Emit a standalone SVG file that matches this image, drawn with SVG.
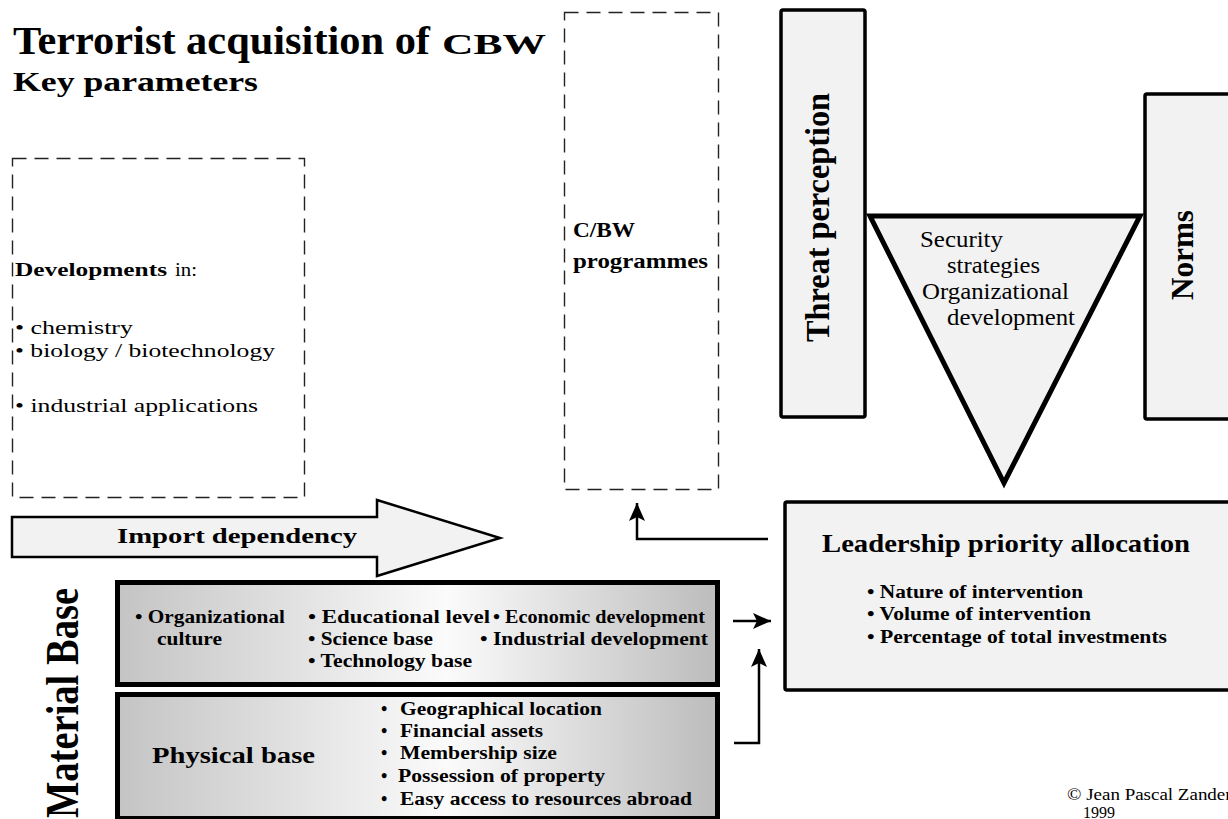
<svg xmlns="http://www.w3.org/2000/svg" width="1228" height="819" viewBox="0 0 1228 819">
<style>
text{font-family:"Liberation Serif","Times New Roman",serif;fill:#000}
.b{font-weight:bold}
.dash{fill:none;stroke:#222;stroke-width:1.4;stroke-dasharray:14 8}
.box{fill:#f2f2f2;stroke:#000;stroke-width:3.5}
.conn{fill:none;stroke:#000;stroke-width:2.5}
</style>
<defs>
<marker id="ah" markerUnits="userSpaceOnUse" markerWidth="20" markerHeight="18" refX="18" refY="8" orient="auto">
<path d="M0,0 L18,8 L0,16 L4,8 z" fill="#000"/>
</marker>
<linearGradient id="mg" x1="0" y1="0" x2="1" y2="0">
<stop offset="0" stop-color="#c4c4c4"/>
<stop offset="0.55" stop-color="#fbfbfb"/>
<stop offset="1" stop-color="#bcbcbc"/>
</linearGradient>
</defs>

<g id="title">
<text class="b" x="13" y="54" font-size="39" textLength="417" lengthAdjust="spacingAndGlyphs">Terrorist acquisition of</text>
<text class="b" x="442" y="54" font-size="29" textLength="104" lengthAdjust="spacingAndGlyphs">CBW</text>
<text class="b" x="13" y="91" font-size="28" textLength="245" lengthAdjust="spacingAndGlyphs">Key parameters</text>
</g>

<g id="developments">
<rect class="dash" x="12.5" y="158.5" width="292" height="339"/>
<text x="15" y="276" font-size="19"><tspan class="b" textLength="152" lengthAdjust="spacingAndGlyphs">Developments</tspan></text>
<text x="175" y="276" font-size="19" textLength="22" lengthAdjust="spacingAndGlyphs">in:</text>
<text x="15" y="334" font-size="19" textLength="118" lengthAdjust="spacingAndGlyphs">• chemistry</text>
<text x="15" y="357" font-size="19" textLength="260" lengthAdjust="spacingAndGlyphs">• biology / biotechnology</text>
<text x="15" y="412" font-size="19" textLength="243" lengthAdjust="spacingAndGlyphs">• industrial applications</text>
</g>

<g id="cbw">
<rect class="dash" x="564.5" y="12.5" width="154" height="477"/>
<text class="b" x="573" y="237" font-size="22" textLength="62" lengthAdjust="spacingAndGlyphs">C/BW</text>
<text class="b" x="573" y="268" font-size="22" textLength="135" lengthAdjust="spacingAndGlyphs">programmes</text>
</g>

<g id="threat">
<rect class="box" x="781" y="10" width="84" height="407" rx="2"/>
<text class="b" font-size="30" transform="translate(829,342) scale(1.15,1) rotate(-90)" textLength="249" lengthAdjust="spacingAndGlyphs">Threat perception</text>
</g>

<g id="norms">
<rect class="box" x="1145" y="94" width="95" height="325" rx="2"/>
<text class="b" font-size="29" transform="translate(1193,300) scale(1.1,1) rotate(-90)" textLength="90" lengthAdjust="spacingAndGlyphs">Norms</text>
</g>

<g id="security">
<polygon points="870,216 1140,216 1004,483" fill="#f2f2f2" stroke="#000" stroke-width="5" stroke-linejoin="miter"/>
<text x="920" y="247" font-size="23" textLength="83" lengthAdjust="spacingAndGlyphs">Security</text>
<text x="947" y="273" font-size="23" textLength="93" lengthAdjust="spacingAndGlyphs">strategies</text>
<text x="922" y="299" font-size="23" textLength="147" lengthAdjust="spacingAndGlyphs">Organizational</text>
<text x="947" y="325" font-size="23" textLength="128" lengthAdjust="spacingAndGlyphs">development</text>
</g>

<g id="import">
<polygon points="12,517 377,517 377,500 500,538 377,576 377,557 12,557" fill="#f2f2f2" stroke="#000" stroke-width="2.5" stroke-linejoin="miter"/>
<text class="b" x="117" y="543" font-size="22" textLength="240" lengthAdjust="spacingAndGlyphs">Import dependency</text>
</g>

<g id="material-label">
<text class="b" font-size="38" transform="translate(78,818) scale(1.2,1) rotate(-90)" textLength="230" lengthAdjust="spacingAndGlyphs">Material Base</text>
</g>

<g id="organizational-base">
<rect x="117.5" y="582.5" width="600" height="102" fill="url(#mg)" stroke="#000" stroke-width="5"/>
<text class="b" x="135" y="623" font-size="18" textLength="150" lengthAdjust="spacingAndGlyphs">• Organizational</text>
<text class="b" x="157" y="645" font-size="18" textLength="65" lengthAdjust="spacingAndGlyphs">culture</text>
<text class="b" x="308" y="623" font-size="18" textLength="182" lengthAdjust="spacingAndGlyphs">• Educational level</text>
<text class="b" x="493" y="623" font-size="18" textLength="212" lengthAdjust="spacingAndGlyphs">• Economic development</text>
<text class="b" x="308" y="645" font-size="18" textLength="125" lengthAdjust="spacingAndGlyphs">• Science base</text>
<text class="b" x="480" y="645" font-size="18" textLength="228" lengthAdjust="spacingAndGlyphs">• Industrial development</text>
<text class="b" x="308" y="667" font-size="18" textLength="164" lengthAdjust="spacingAndGlyphs">• Technology base</text>
</g>

<g id="physical-base">
<rect x="117.5" y="694.5" width="600" height="124" fill="url(#mg)" stroke="#000" stroke-width="5"/>
<text class="b" x="152" y="763" font-size="24" textLength="163" lengthAdjust="spacingAndGlyphs">Physical base</text>
<text class="b" x="381" y="715" font-size="18">•</text>
<text class="b" x="381" y="737" font-size="18">•</text>
<text class="b" x="381" y="759" font-size="18">•</text>
<text class="b" x="381" y="782" font-size="18">•</text>
<text class="b" x="381" y="805" font-size="18">•</text>
<text class="b" x="400" y="715" font-size="18" textLength="202" lengthAdjust="spacingAndGlyphs">Geographical location</text>
<text class="b" x="400" y="737" font-size="18" textLength="143" lengthAdjust="spacingAndGlyphs">Financial assets</text>
<text class="b" x="400" y="759" font-size="18" textLength="157" lengthAdjust="spacingAndGlyphs">Membership size</text>
<text class="b" x="398" y="782" font-size="18" textLength="207" lengthAdjust="spacingAndGlyphs">Possession of property</text>
<text class="b" x="400" y="805" font-size="18" textLength="292" lengthAdjust="spacingAndGlyphs">Easy access to resources abroad</text>
</g>

<g id="leadership">
<rect class="box" x="785" y="502" width="460" height="188" rx="2"/>
<text class="b" x="822" y="552" font-size="25" textLength="368" lengthAdjust="spacingAndGlyphs">Leadership priority allocation</text>
<text class="b" x="867" y="598" font-size="18" textLength="216" lengthAdjust="spacingAndGlyphs">• Nature of intervention</text>
<text class="b" x="867" y="620" font-size="18" textLength="224" lengthAdjust="spacingAndGlyphs">• Volume of intervention</text>
<text class="b" x="867" y="643" font-size="18" textLength="300" lengthAdjust="spacingAndGlyphs">• Percentage of total investments</text>
</g>

<g id="connectors">
<path class="conn" d="M768,539 H637 V503" marker-end="url(#ah)"/>
<path class="conn" d="M733,621 H771" marker-end="url(#ah)"/>
<path class="conn" d="M734,743 H759 V649" marker-end="url(#ah)"/>
</g>

<g id="copyright">
<text x="1067" y="800" font-size="16" textLength="172" lengthAdjust="spacingAndGlyphs">© Jean Pascal Zanders</text>
<text x="1083" y="818" font-size="16">1999</text>
</g>
</svg>
